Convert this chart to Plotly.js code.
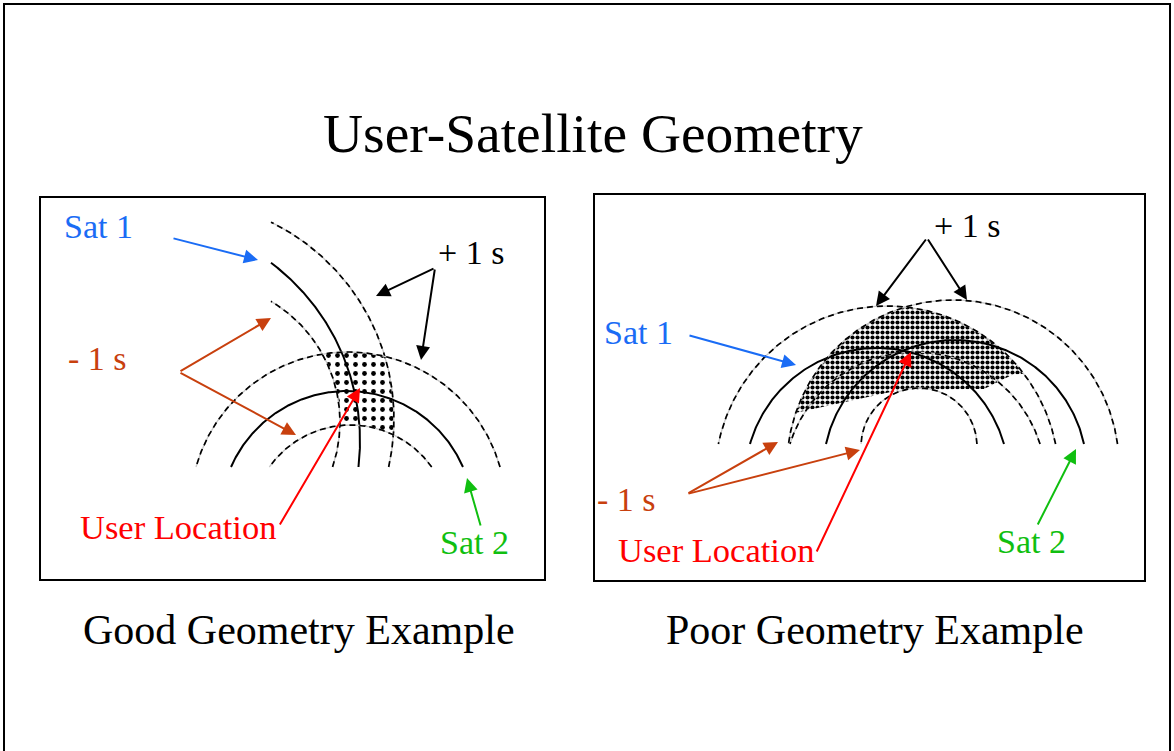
<!DOCTYPE html>
<html>
<head>
<meta charset="utf-8">
<script src="https://cdn.plot.ly/plotly-3.0.1.min.js"></script>
<style>html,body{margin:0;padding:0;background:#fff;}#chart{width:1174px;height:751px;}</style>
</head>
<body>
<div id="chart"></div>
<script>
// ---------- data: arcs (pixel geometry of the diagram) ----------
// Good geometry panel: Sat 1 arcs (minus, nominal, plus), Sat 2 arcs (minus, nominal, plus)
const goodArcName   = ['S1-', 'S1', 'S1+', 'S2-', 'S2', 'S2+'];
const goodArcCx     = [200, 137, 175, 350.5, 347, 348];
const goodArcCy     = [422, 441, 419, 524.5, 517.5, 510];
const goodArcR      = [140, 223, 219, 99.5, 126.5, 158];
const goodArcMinX   = [271, 271, 271, null, null, null];
const goodArcDashed = [true, false, true, true, false, true];
const goodBaseY     = 467;

// Poor geometry panel
const poorArcName   = ['S1-', 'S1', 'S1+', 'S2-', 'S2', 'S2+'];
const poorArcCx     = [915, 877, 887, 919, 955, 953];
const poorArcCy     = [483, 480, 478, 446, 472, 466];
const poorArcR      = [131, 132, 172, 58, 132, 166];
const poorArcDashed = [true, false, true, true, false, true];
const poorBaseY     = 444;
// lower limit of the shaded area in the poor panel
const poorShadeCutX = [790, 905, 985, 1014];
const poorShadeCutY = [414, 389, 389, 374];

// panels, frame
const panelX0 = [40, 594], panelX1 = [545, 1145], panelY0 = [197, 194], panelY1 = [580, 581];

// text labels
const labelText  = ['User-Satellite Geometry', 'Good Geometry Example', 'Poor Geometry Example',
                    'Sat 1', '- 1 s', '+ 1 s', 'User Location', 'Sat 2',
                    '+ 1 s', 'Sat 1', '- 1 s', 'User Location', 'Sat 2'];
const labelX     = [593, 299, 875, 98, 97, 471, 178, 474, 967, 638, 626, 716, 1031];
const labelY     = [133, 630, 630, 226, 358, 252, 527, 542, 225, 332, 499, 550, 541];
const labelSize  = [55.5, 42, 42, 34, 34, 34, 34.5, 34, 34, 34, 34, 34.5, 34];
const labelColor = ['#000', '#000', '#000', '#1a6cf5', '#c8400e', '#000', '#ff0000', '#10bf10',
                    '#000', '#1a6cf5', '#c8400e', '#ff0000', '#10bf10'];

// arrows: tail -> tip
const arrowTailX = [172, 179, 179, 435, 435, 279, 481, 927, 927, 688, 687, 687, 816, 1037];
const arrowTailY = [238, 372, 372, 268, 268, 526, 527, 238, 238, 335, 494, 494, 553, 526];
const arrowTipX  = [258, 271, 296, 376, 421, 360, 467, 876, 967, 796, 778, 860, 911, 1076];
const arrowTipY  = [260, 318, 435, 296, 360, 388, 478, 306, 300, 365, 442, 450, 352, 449];
const arrowColor = ['#1a6cf5', '#c8400e', '#c8400e', '#000', '#000', '#ff0000', '#10bf10',
                    '#000', '#000', '#1a6cf5', '#c8400e', '#c8400e', '#ff0000', '#10bf10'];

// ---------- geometry helpers ----------
function arcPoints(cx, cy, r, baseY, minX) {
  const lo = Math.asin(Math.max(-1, Math.min(1, (cy - baseY) / r)));
  let hi = Math.PI - lo;
  if (minX !== null && minX !== undefined) hi = Math.min(hi, Math.acos((minX - cx) / r));
  const xs = [], ys = [], n = 240;
  for (let i = 0; i <= n; i++) {
    const t = lo + (hi - lo) * i / n;
    xs.push(cx + r * Math.cos(t)); ys.push(cy - r * Math.sin(t));
  }
  return {x: xs, y: ys};
}
function circleTop(cx, cy, r, x) {
  const d = r * r - (x - cx) * (x - cx);
  return d < 0 ? null : cy - Math.sqrt(d);
}
function intersectTop(c1, c2) {
  const dx = c2[0] - c1[0], dy = c2[1] - c1[1];
  const d = Math.hypot(dx, dy);
  const a = (c1[2] * c1[2] - c2[2] * c2[2] + d * d) / (2 * d);
  const h = Math.sqrt(Math.max(0, c1[2] * c1[2] - a * a));
  const mx = c1[0] + a * dx / d, my = c1[1] + a * dy / d;
  const p1 = [mx + h * dy / d, my - h * dx / d], p2 = [mx - h * dy / d, my + h * dx / d];
  return p1[1] < p2[1] ? p1 : p2;
}
function arcBetween(c, p, q, xs, ys) {
  let a1 = Math.atan2(c[1] - p[1], p[0] - c[0]);
  let a2 = Math.atan2(c[1] - q[1], q[0] - c[0]);
  let d = a2 - a1;
  while (d > Math.PI) d -= 2 * Math.PI;
  while (d < -Math.PI) d += 2 * Math.PI;
  const n = 60;
  for (let i = 0; i <= n; i++) {
    const t = a1 + d * i / n;
    xs.push(c[0] + c[2] * Math.cos(t)); ys.push(c[1] - c[2] * Math.sin(t));
  }
}
function interpCut(x) {
  if (x <= poorShadeCutX[0]) return poorShadeCutY[0];
  for (let i = 1; i < poorShadeCutX.length; i++) {
    if (x <= poorShadeCutX[i]) {
      const f = (x - poorShadeCutX[i - 1]) / (poorShadeCutX[i] - poorShadeCutX[i - 1]);
      return poorShadeCutY[i - 1] + f * (poorShadeCutY[i] - poorShadeCutY[i - 1]);
    }
  }
  return poorShadeCutY[poorShadeCutY.length - 1];
}

const traces = [];

// ---------- shaded areas ----------
{
  const A1 = [goodArcCx[0], goodArcCy[0], goodArcR[0]];
  const A2 = [goodArcCx[2], goodArcCy[2], goodArcR[2]];
  const B1 = [goodArcCx[3], goodArcCy[3], goodArcR[3]];
  const B2 = [goodArcCx[5], goodArcCy[5], goodArcR[5]];
  const TL = intersectTop(A1, B2), TR = intersectTop(A2, B2);
  const BR = intersectTop(A2, B1), BL = intersectTop(A1, B1);
  const xs = [], ys = [];
  arcBetween(B2, TL, TR, xs, ys);
  arcBetween(A2, TR, BR, xs, ys);
  arcBetween(B1, BR, BL, xs, ys);
  arcBetween(A1, BL, TL, xs, ys);
  traces.push({type: 'scatter', mode: 'lines', x: xs, y: ys, fill: 'toself',
    line: {width: 0, color: 'rgba(0,0,0,0)'}, fillcolor: '#ffffff',
    fillpattern: {shape: '.', size: 9, solidity: 0.22, fgcolor: '#000', bgcolor: '#fff'},
    hoverinfo: 'skip', showlegend: false});
}
{
  const up = [], lowX = [], lowY = [], upX = [];
  for (let x = 760; x <= 1060; x += 1) {
    const t1 = circleTop(poorArcCx[2], poorArcCy[2], poorArcR[2], x);
    const t2 = circleTop(poorArcCx[5], poorArcCy[5], poorArcR[5], x);
    if (t1 === null || t2 === null) continue;
    const top = Math.max(t1, t2), bot = interpCut(x);
    if (top < bot) { upX.push(x); up.push(top); lowX.push(x); lowY.push(bot); }
  }
  const xs = upX.concat(lowX.slice().reverse());
  const ys = up.concat(lowY.slice().reverse());
  traces.push({type: 'scatter', mode: 'lines', x: xs, y: ys, fill: 'toself',
    line: {width: 0, color: 'rgba(0,0,0,0)'}, fillcolor: '#ffffff',
    fillpattern: {shape: '.', size: 5, solidity: 0.55, fgcolor: '#000', bgcolor: '#fff'},
    hoverinfo: 'skip', showlegend: false});
}

// ---------- arcs ----------
function addArcs(cxs, cys, rs, minXs, dashed, baseY) {
  for (let i = 0; i < cxs.length; i++) {
    const p = arcPoints(cxs[i], cys[i], rs[i], baseY, minXs ? minXs[i] : null);
    if (dashed[i]) {
      traces.push({type: 'scatter', mode: 'lines', x: p.x, y: p.y,
        line: {color: '#c8c8c8', width: 1.3}, hoverinfo: 'skip', showlegend: false});
      traces.push({type: 'scatter', mode: 'lines', x: p.x, y: p.y,
        line: {color: '#000', width: 1.7, dash: '6px,4px'}, hoverinfo: 'skip', showlegend: false});
    } else {
      traces.push({type: 'scatter', mode: 'lines', x: p.x, y: p.y,
        line: {color: '#000', width: 2}, hoverinfo: 'skip', showlegend: false});
    }
  }
}
addArcs(goodArcCx, goodArcCy, goodArcR, goodArcMinX, goodArcDashed, goodBaseY);
addArcs(poorArcCx, poorArcCy, poorArcR, null, poorArcDashed, poorBaseY);

// ---------- annotations ----------
const FONT = '"Liberation Serif", "Times New Roman", serif';
const annotations = [];
for (let i = 0; i < labelText.length; i++) {
  annotations.push({x: labelX[i], y: labelY[i], xref: 'x', yref: 'y', text: labelText[i],
    showarrow: false, xanchor: 'center', yanchor: 'middle',
    font: {family: FONT, size: labelSize[i], color: labelColor[i]}});
}
for (let i = 0; i < arrowTipX.length; i++) {
  annotations.push({x: arrowTipX[i], y: arrowTipY[i], ax: arrowTailX[i], ay: arrowTailY[i],
    xref: 'x', yref: 'y', axref: 'x', ayref: 'y', text: '', showarrow: true,
    arrowhead: 2, arrowsize: 1.4, arrowwidth: 2, arrowcolor: arrowColor[i], standoff: 0});
}

const shapes = [{type: 'rect', xref: 'x', yref: 'y', x0: 4, y0: 4, x1: 1170, y1: 800,
  line: {color: '#000', width: 2}}];
for (let i = 0; i < panelX0.length; i++) {
  shapes.push({type: 'rect', xref: 'x', yref: 'y', x0: panelX0[i], x1: panelX1[i],
    y0: panelY0[i], y1: panelY1[i], line: {color: '#000', width: 2}, layer: 'below'});
}

const layout = {
  width: 1174, height: 751, margin: {l: 0, r: 0, t: 0, b: 0},
  paper_bgcolor: '#fff', plot_bgcolor: '#fff',
  xaxis: {range: [0, 1174], visible: false, fixedrange: true},
  yaxis: {range: [751, 0], visible: false, fixedrange: true},
  showlegend: false, shapes: shapes, annotations: annotations
};
Plotly.newPlot('chart', traces, layout, {staticPlot: true, displayModeBar: false});
</script>
</body>
</html>
